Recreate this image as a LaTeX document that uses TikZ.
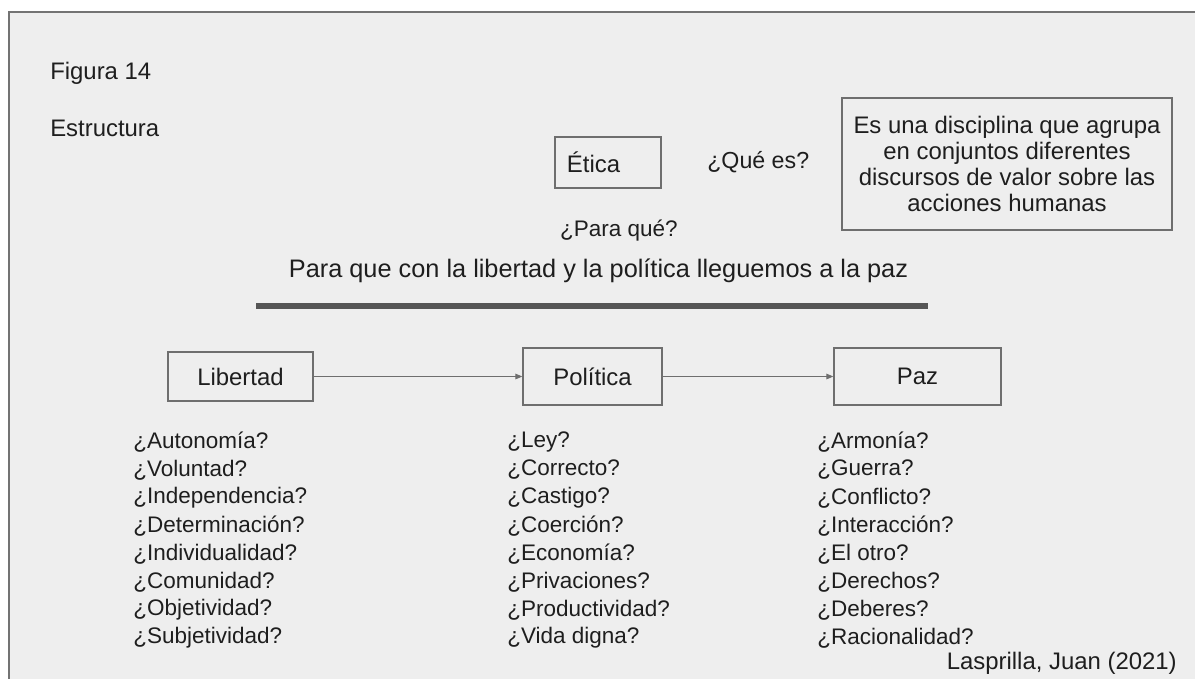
\documentclass[tikz,border=0pt]{standalone}
\usepackage{fontspec}
\setmainfont{Liberation Sans}
\usetikzlibrary{positioning,arrows.meta}
\definecolor{framegray}{RGB}{115,115,115}
\definecolor{panelbg}{RGB}{238,238,238}
\definecolor{boxgray}{RGB}{110,110,110}
\definecolor{inkdark}{RGB}{30,30,30}
\definecolor{rulegray}{RGB}{85,85,85}
\tikzset{
  conceptbox/.style={draw=boxgray,line width=0.9pt,inner sep=0pt,align=center},
  listitem/.style={anchor=west,inner sep=0pt,font=\fontsize{16}{18}\selectfont},
  flowarrow/.style={draw=boxgray,line width=0.7pt,-{Triangle[length=5pt,width=4pt]}}
}

\begin{document}
\begin{tikzpicture}[x=0.025cm,y=-0.025cm,every node/.style={font=\fontsize{17}{18.3}\selectfont,text=inkdark}]
    \clip (0,0) rectangle (1195,678);
    \fill[white] (0,0) rectangle (1195,678);
    \fill[panelbg] (9,12) rectangle (1210,690);
    \draw[framegray,line width=1.1pt] (1210,12) -- (9,12) -- (9,690);
    \node[anchor=west,inner sep=0pt] (fig) at (50,73) {Figura 14};
    \node[anchor=west,inner sep=0pt] (estr) at (50,128) {Estructura};
    \node[conceptbox,minimum width=2.65cm,minimum height=1.275cm,text width=2.05cm,align=left,inner xsep=0.3cm] (etica) at (608,162.5) {Ética};
    \node[anchor=west,inner sep=0pt,font=\fontsize{16.5}{18}\selectfont] (quees) at (707,162) {¿Qué es?};
    \node[conceptbox,minimum width=8.25cm,minimum height=3.3cm] (defin) at (1007,164) {Es una disciplina que agrupa\\en conjuntos diferentes\\discursos de valor sobre las\\acciones humanas};
    \node[font=\fontsize{16}{18}\selectfont] (paraque) at (619,231) {¿Para qué?};
    \node[font=\fontsize{18}{20}\selectfont] (respuesta) at (598.5,271) {Para que con la libertad y la política lleguemos a la paz};
    \draw[rulegray,line width=3.6pt] (256,306) -- (928,306);
    \node[conceptbox,minimum width=3.625cm,minimum height=1.225cm] (libertad) at (240.5,376.5) {Libertad};
    \node[conceptbox,minimum width=3.475cm,minimum height=1.425cm] (politica) at (592.5,376.5) {Política};
    \node[conceptbox,minimum width=4.175cm,minimum height=1.425cm] (paz) at (917.5,376.5) {Paz};
    \draw[flowarrow] (libertad) -- (politica);
    \draw[flowarrow] (politica) -- (paz);
    \foreach \word [count=\i from 0] in {Autonomía,Voluntad,Independencia,Determinación,Individualidad,Comunidad,Objetividad,Subjetividad}
      {\node[listitem] (lib-\i) at (133,{442+28*\i}) {¿\word?};}
    \foreach \word [count=\i from 0] in {Ley,Correcto,Castigo,Coerción,Economía,Privaciones,Productividad,Vida digna}
      {\node[listitem] (pol-\i) at (507,{442+28*\i}) {¿\word?};}
    \foreach \word [count=\i from 0] in {Armonía,Guerra,Conflicto,Interacción,El otro,Derechos,Deberes,Racionalidad}
      {\node[listitem] (paz-\i) at (817,{442+28*\i}) {¿\word?};}
    \node[anchor=east,inner sep=0pt] (autor) at (1177,663) {Lasprilla, Juan (2021)};
  \end{tikzpicture}
\end{document}
